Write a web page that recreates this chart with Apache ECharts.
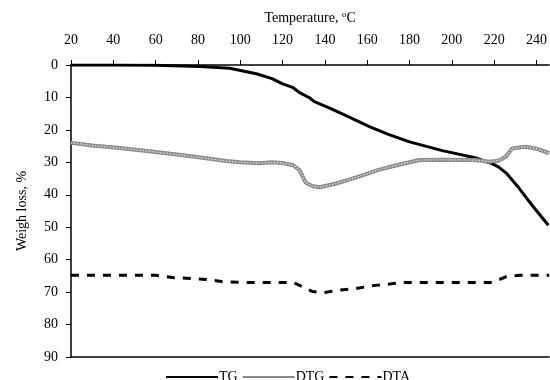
<!DOCTYPE html>
<html>
<head>
<meta charset="utf-8">
<script src="https://cdn.jsdelivr.net/npm/echarts@6/dist/echarts.min.js"></script>
<style>html,body{margin:0;padding:0;background:#fff;}#c{width:550px;height:380px;}</style>
</head>
<body>
<div id="c"></div>
<script>
// Temperature (°C) and values (%)
var tgTemp = [20, 40, 60, 81, 95, 107.6, 115, 120, 125, 128, 132.7, 135, 142, 150, 161, 170, 180, 195.5, 211, 219, 222, 226, 231.8, 238, 245.6];
var tgVal  = [0, 0, 0.1, 0.5, 1, 2.7, 4.2, 5.8, 7, 8.5, 10.1, 11.3, 13.2, 15.6, 19, 21.4, 23.7, 26.4, 28.6, 30.4, 31.4, 33.5, 38, 43.3, 49.4];

var dtgTemp = [20, 30, 43, 60, 75, 93.4, 100, 109, 115, 120, 125, 128, 131, 134, 137.5, 145, 156, 165, 172, 184.6, 195, 211, 217.6, 222, 225.5, 228.5, 235, 240, 246];
var dtgVal  = [24, 24.8, 25.6, 26.8, 28, 29.6, 30, 30.3, 30, 30.2, 30.9, 32.4, 36.3, 37.3, 37.7, 36.6, 34.4, 32.4, 31.2, 29.3, 29.2, 29.3, 29.8, 29.5, 28.3, 25.7, 25.2, 25.8, 27.2];

var dtaTemp = [20, 60, 68, 84, 91.8, 100, 125, 134, 139, 147, 154.7, 162.5, 170.5, 178, 219, 225.5, 232, 246];
var dtaVal  = [64.8, 64.8, 65.5, 66.1, 66.8, 67, 67, 69.8, 70.2, 69.4, 68.9, 68, 67.5, 67, 67, 65.3, 64.8, 64.8];

var seriesNames = ['TG', 'DTG', 'DTA'];
var xTitle = 'Temperature, {sup|o}C';
var yTitle = 'Weigh loss, %';

function pairs(t, v) { return t.map(function (x, i) { return [x, v[i]]; }); }

var FONT = '"Liberation Serif", "Times New Roman", serif';
var chart = echarts.init(document.getElementById('c'), null, {renderer: 'canvas'});
chart.setOption({
  animation: false,
  backgroundColor: '#fff',
  textStyle: {fontFamily: FONT, color: '#000'},
  grid: {left: 71, top: 65, right: 0, bottom: 23, containLabel: false},
  legend: {
    data: seriesNames,
    bottom: -9,
    left: 160,
    itemWidth: 52,
    itemHeight: 10,
    itemGap: 4,
    itemStyle: {opacity: 0},
    textStyle: {fontFamily: FONT, fontSize: 14, color: '#000', padding: [0, 0, 0, -4]}
  },
  xAxis: [{
    type: 'value',
    position: 'top',
    min: 20, max: 246, interval: 20,
    name: xTitle,
    nameLocation: 'middle',
    nameGap: 38,
    nameTextStyle: {fontFamily: FONT, fontSize: 14, color: '#000',
      rich: {sup: {fontFamily: FONT, fontSize: 9, verticalAlign: 'top', padding: [0, 0, 8, 0], color: '#000'}}},
    axisLine: {show: true, onZero: false, lineStyle: {color: '#000', width: 1.5}},
    axisTick: {show: true, inside: false, length: 5, lineStyle: {color: '#000'}},
    axisLabel: {fontFamily: FONT, fontSize: 14, color: '#000', margin: 18, showMaxLabel: false,
      formatter: function (v) { return v % 20 === 0 ? String(v) : ''; }},
    splitLine: {show: false}
  }, {
    type: 'value',
    position: 'bottom',
    min: 20, max: 246,
    axisLine: {show: true, onZero: false, lineStyle: {color: '#000', width: 1.5}},
    axisTick: {show: false},
    axisLabel: {show: false},
    splitLine: {show: false}
  }],
  yAxis: {
    type: 'value',
    inverse: true,
    min: 0, max: 90, interval: 10,
    name: yTitle,
    nameLocation: 'middle',
    nameGap: 42,
    nameRotate: 90,
    nameTextStyle: {fontFamily: FONT, fontSize: 14, color: '#000'},
    axisLine: {show: true, onZero: false, lineStyle: {color: '#000', width: 1.5}},
    axisTick: {show: true, inside: false, length: 5, lineStyle: {color: '#000'}},
    axisLabel: {fontFamily: FONT, fontSize: 14, color: '#000', margin: 13},
    splitLine: {show: false}
  },
  series: [{
    name: 'TG', type: 'line', xAxisIndex: 0, showSymbol: false, symbol: 'none',
    data: pairs(tgTemp, tgVal),
    lineStyle: {color: '#000', width: 3}, itemStyle: {color: '#000'}
  }, {
    name: 'DTG', type: 'line', xAxisIndex: 0, showSymbol: false, symbol: 'none',
    data: pairs(dtgTemp, dtgVal),
    lineStyle: {color: '#8a8a8a', width: 4}, itemStyle: {color: '#8a8a8a'}
  }, {
    name: 'DTG', type: 'line', xAxisIndex: 0, showSymbol: false, symbol: 'none',
    data: pairs(dtgTemp, dtgVal),
    lineStyle: {color: '#e6e6e6', width: 1.2, type: [1.5, 1.5]}, itemStyle: {color: '#e6e6e6'}
  }, {
    name: 'DTA', type: 'line', xAxisIndex: 0, showSymbol: false, symbol: 'none',
    data: pairs(dtaTemp, dtaVal),
    lineStyle: {color: '#000', width: 3, type: [8, 8]}, itemStyle: {color: '#000'}
  }]
});
</script>
</body>
</html>
